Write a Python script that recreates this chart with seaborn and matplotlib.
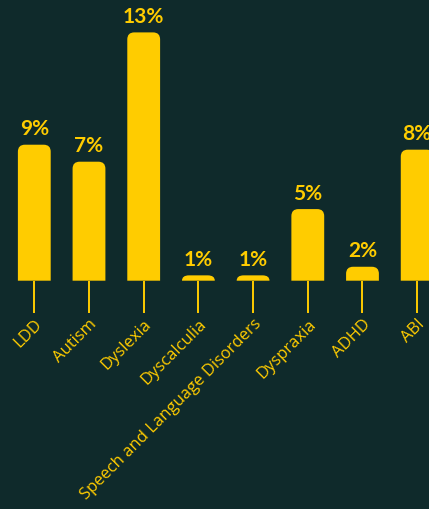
import matplotlib
matplotlib.use("Agg")
import matplotlib.pyplot as plt
import seaborn as sns
import pandas as pd
from matplotlib.path import Path
from matplotlib.patches import PathPatch

categories = ["LDD", "Autism", "Dyslexia", "Dyscalculia",
              "Speech and Language Disorders", "Dyspraxia", "ADHD", "ABI"]
values = [7.12, 6.23, 13.0, 0.28, 0.28, 3.75, 0.73, 6.86]
labels = ["9%", "7%", "13%", "1%", "1%", "5%", "2%", "8%"]

BG = "#0f2a2b"
YEL = "#ffcc00"

sns.set_theme(style="white")
plt.rcParams["font.family"] = ["Open Sans", "DejaVu Sans"]

df = pd.DataFrame({"cat": categories, "val": values})

fig = plt.figure(figsize=(4.29, 5.10), dpi=100, facecolor=BG)
ax = fig.add_axes([0, 1 - 281.7 / 510, 1, 281.7 / 510])
ax.set_facecolor(BG)

sns.barplot(data=df, x="cat", y="val", color=YEL, width=0.6, saturation=1,
            ax=ax, order=categories)

ax.set_xlim(-0.627, 7.216)
ax.set_ylim(0, 281.7 / 19.1)

# rounded top corners
rx = 7 / 54.7
ry_full = 7 / 19.1
for p in list(ax.patches):
    x0 = p.get_x()
    w = p.get_width()
    h = p.get_height()
    x1 = x0 + w
    y0 = 0
    y1 = h
    ry = min(ry_full, h)
    verts = [(x0, y0), (x0, y1 - ry), (x0, y1), (x0 + rx, y1),
             (x1 - rx, y1), (x1, y1), (x1, y1 - ry), (x1, y0), (x0, y0)]
    codes = [Path.MOVETO, Path.LINETO, Path.CURVE3, Path.CURVE3,
             Path.LINETO, Path.CURVE3, Path.CURVE3, Path.LINETO, Path.CLOSEPOLY]
    pp = PathPatch(Path(verts, codes), facecolor=YEL, edgecolor="none",
                   clip_on=True)
    ax.add_patch(pp)
    p.remove()

for i, (v, lab) in enumerate(zip(values, labels)):
    ax.annotate(lab, (i, v), xytext=(0, 7.5), textcoords="offset points",
                ha="center", va="baseline", color=YEL, fontsize=15,
                fontweight="bold", family=["Lato", "DejaVu Sans"],
                annotation_clip=False)

for s in ax.spines.values():
    s.set_visible(False)
ax.set_xlabel("")
ax.set_ylabel("")
ax.set_yticks([])
ax.tick_params(axis="x", which="major", direction="out", length=23,
               width=1.4, color=YEL, pad=2, labelcolor=YEL, labelsize=12,
               bottom=True)
for t in ax.get_xticklabels():
    t.set_rotation(45)
    t.set_ha("right")
    t.set_rotation_mode("anchor")

fig.savefig("out.png", dpi=100, facecolor=BG)
